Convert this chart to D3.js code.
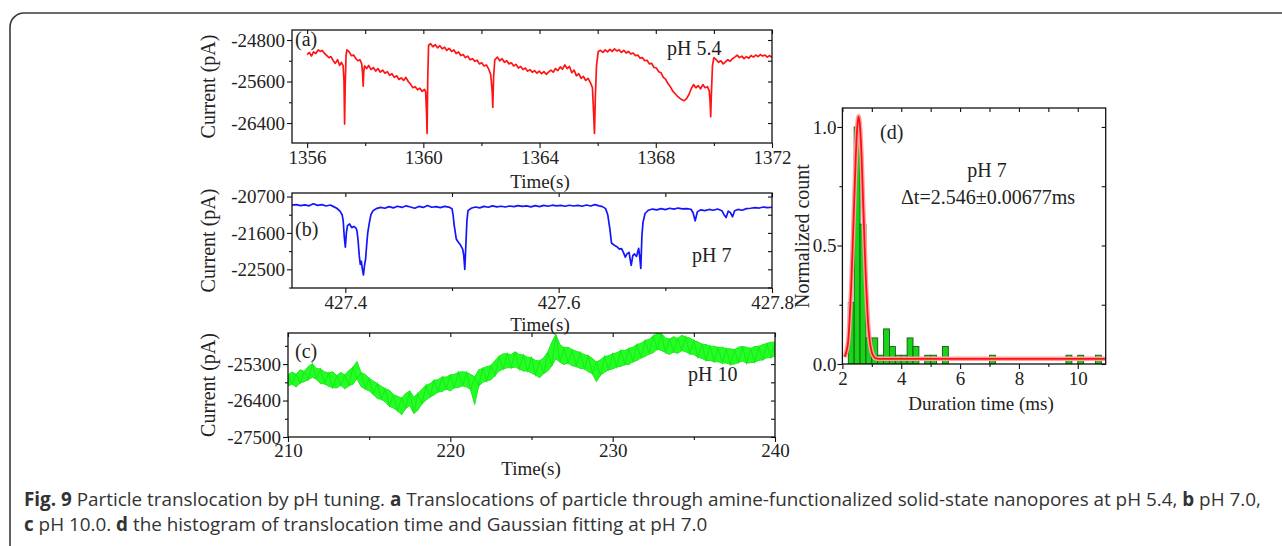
<!DOCTYPE html>
<html><head><meta charset="utf-8">
<script src="https://cdn.jsdelivr.net/npm/d3@7"></script>
<style>
body{margin:0;background:#fff;}
svg{display:block;}
</style></head><body>
<svg id="chart" width="1282" height="546"></svg>
<script>
// ---------------- DATA ----------------
// Panel (a) pH 5.4 : [time s, current pA]
const traceA = [
[1356.00,-25080],[1356.08,-25040],[1356.15,-25110],[1356.22,-25030],[1356.30,-25060],[1356.38,-24990],[1356.45,-25020],[1356.52,-25000],[1356.60,-25060],[1356.68,-25100],[1356.75,-25140],[1356.82,-25120],[1356.90,-25200],[1356.97,-25250],[1357.05,-25180],[1357.12,-25290],[1357.18,-25230],[1357.24,-25300],
[1357.27,-25600],[1357.29,-26420],[1357.31,-25700],[1357.34,-25100],[1357.37,-24990],
[1357.45,-25030],[1357.52,-25100],[1357.60,-25090],[1357.68,-25160],[1357.75,-25200],[1357.82,-25180],[1357.88,-25260],
[1357.91,-25450],[1357.93,-25690],[1357.95,-25400],[1357.98,-25300],
[1358.05,-25350],[1358.12,-25290],[1358.20,-25370],[1358.28,-25330],[1358.36,-25400],[1358.44,-25350],[1358.52,-25420],[1358.60,-25380],[1358.68,-25440],[1358.76,-25410],[1358.84,-25480],[1358.92,-25450],[1359.00,-25520],[1359.08,-25490],[1359.16,-25560],[1359.24,-25530],[1359.32,-25580],[1359.40,-25520],[1359.48,-25600],[1359.56,-25650],[1359.64,-25720],[1359.72,-25700],[1359.80,-25760],[1359.88,-25730],[1359.96,-25790],[1360.04,-25750],[1360.08,-25800],
[1360.11,-26200],[1360.13,-26600],[1360.15,-25600],[1360.18,-24900],
[1360.25,-24870],[1360.33,-24930],[1360.41,-24890],[1360.49,-24950],[1360.57,-24910],[1360.65,-24970],[1360.73,-24940],[1360.81,-25000],[1360.89,-24960],[1360.97,-25020],[1361.05,-24990],[1361.13,-25060],[1361.21,-25030],[1361.29,-25100],[1361.37,-25080],[1361.45,-25140],[1361.53,-25110],[1361.61,-25180],[1361.69,-25160],[1361.77,-25210],[1361.85,-25190],[1361.93,-25260],[1362.01,-25240],[1362.09,-25300],[1362.17,-25280],[1362.25,-25360],[1362.32,-25470],
[1362.37,-25800],[1362.39,-26100],[1362.42,-25500],[1362.46,-25180],
[1362.55,-25130],[1362.63,-25200],[1362.71,-25160],[1362.79,-25230],[1362.87,-25200],[1362.95,-25260],[1363.03,-25240],[1363.11,-25300],[1363.19,-25270],[1363.27,-25340],[1363.35,-25310],[1363.43,-25370],[1363.51,-25340],[1363.59,-25400],[1363.67,-25370],[1363.75,-25420],[1363.83,-25390],[1363.91,-25440],[1363.99,-25400],[1364.07,-25450],[1364.15,-25410],[1364.23,-25460],[1364.31,-25420],[1364.39,-25380],[1364.47,-25420],[1364.55,-25350],[1364.63,-25390],[1364.71,-25320],[1364.79,-25360],[1364.87,-25280],[1364.95,-25350],[1365.03,-25310],[1365.11,-25430],[1365.19,-25380],[1365.27,-25490],[1365.35,-25450],[1365.43,-25540],[1365.51,-25500],[1365.59,-25580],[1365.67,-25540],[1365.75,-25620],[1365.82,-25720],
[1365.86,-26200],[1365.89,-26600],[1365.92,-25900],[1365.96,-25300],[1366.02,-25020],
[1366.10,-25000],[1366.18,-25040],[1366.26,-24990],[1366.34,-25030],[1366.42,-24980],[1366.50,-25020],[1366.58,-24970],[1366.66,-25010],[1366.74,-24990],[1366.82,-25040],[1366.90,-25000],[1366.98,-25050],[1367.06,-25020],[1367.14,-25070],[1367.22,-25050],[1367.30,-25100],[1367.38,-25090],[1367.46,-25150],[1367.54,-25140],[1367.62,-25200],[1367.70,-25190],[1367.78,-25260],[1367.86,-25250],[1367.94,-25330],[1368.02,-25340],[1368.10,-25410],[1368.18,-25430],[1368.26,-25520],[1368.34,-25560],[1368.42,-25640],[1368.50,-25700],[1368.58,-25780],[1368.66,-25830],[1368.74,-25880],[1368.82,-25920],[1368.90,-25950],[1368.98,-25970],[1369.06,-25930],[1369.14,-25850],[1369.22,-25740],[1369.30,-25660],[1369.38,-25720],[1369.46,-25680],[1369.54,-25740],[1369.62,-25660],[1369.70,-25720],[1369.78,-25700],[1369.84,-25780],
[1369.87,-26000],[1369.89,-26280],[1369.91,-25900],[1369.95,-25300],[1370.00,-25140],
[1370.08,-25180],[1370.16,-25230],[1370.24,-25200],[1370.32,-25260],[1370.40,-25220],[1370.48,-25180],[1370.56,-25210],[1370.64,-25160],[1370.72,-25130],[1370.80,-25090],[1370.88,-25140],[1370.96,-25110],[1371.04,-25160],[1371.12,-25120],[1371.20,-25150],[1371.28,-25100],[1371.36,-25130],[1371.44,-25090],[1371.52,-25120],[1371.60,-25080],[1371.68,-25110],[1371.76,-25090],[1371.84,-25130],[1371.92,-25100],[1372.00,-25140]
];

// Panel (b) pH 7 : [time s, current pA]
const traceB = [
[427.350,-20915],[427.354,-20900],[427.358,-20925],[427.362,-20905],[427.366,-20930],[427.370,-20880],[427.374,-20920],[427.378,-20900],[427.382,-20935],[427.386,-20910],[427.389,-20950],[427.392,-20990],[427.395,-21060],[427.397,-21150],[427.398,-21300],[427.399,-21700],[427.400,-21950],[427.401,-21600],[427.402,-21420],[427.404,-21380],[427.406,-21470],[427.408,-21440],[427.410,-21480],[427.411,-21560],[427.412,-21800],[427.413,-22150],[427.414,-22380],[427.415,-22300],[427.416,-22500],[427.417,-22640],[427.418,-22400],[427.419,-22250],[427.420,-21900],[427.421,-21600],[427.4225,-21350],[427.424,-21150],[427.426,-21050],[427.429,-21000],[427.433,-20970],[427.437,-20990],[427.441,-20950],[427.445,-20980],[427.449,-20940],[427.453,-20970],[427.457,-20930],[427.461,-20960],[427.465,-20990],[427.469,-20945],[427.473,-20970],[427.477,-20920],[427.481,-20965],[427.485,-20950],[427.489,-20975],[427.493,-20945],[427.497,-20960],[427.500,-21000],[427.501,-21150],[427.502,-21400],[427.504,-21750],[427.506,-21830],[427.508,-21900],[427.510,-22000],[427.511,-22150],[427.512,-22500],[427.513,-21900],[427.514,-21300],[427.515,-21050],[427.518,-20990],[427.522,-20960],[427.526,-20980],[427.530,-20945],[427.534,-20965],[427.538,-20930],[427.542,-20955],[427.546,-20940],[427.550,-20960],[427.554,-20935],[427.558,-20950],[427.562,-20925],[427.566,-20945],[427.570,-20930],[427.574,-20955],[427.578,-20925],[427.582,-20950],[427.586,-20920],[427.590,-20940],[427.594,-20915],[427.598,-20930],[427.602,-20920],[427.606,-20940],[427.610,-20915],[427.614,-20935],[427.618,-20920],[427.622,-20940],[427.626,-20910],[427.630,-20935],[427.634,-20900],[427.638,-20930],[427.641,-20950],[427.644,-21000],[427.646,-21150],[427.648,-21500],[427.6495,-21850],[427.651,-21880],[427.653,-21920],[427.655,-21950],[427.657,-22000],[427.659,-21990],[427.661,-22100],[427.6625,-22200],[427.664,-22120],[427.666,-22080],[427.667,-22250],[427.668,-22400],[427.6695,-22160],[427.671,-22120],[427.673,-22180],[427.675,-21980],[427.676,-22200],[427.677,-22480],[427.678,-21700],[427.679,-21350],[427.681,-21120],[427.684,-21040],[427.688,-21010],[427.692,-21030],[427.696,-21000],[427.700,-21025],[427.704,-20990],[427.708,-21010],[427.712,-20985],[427.716,-21005],[427.720,-21000],[427.724,-21015],[427.726,-21100],[427.728,-21300],[427.730,-21080],[427.733,-21030],[427.737,-21050],[427.741,-21020],[427.745,-21040],[427.749,-21010],[427.753,-21050],[427.755,-21150],[427.757,-21220],[427.759,-21060],[427.761,-21100],[427.763,-21200],[427.765,-21050],[427.768,-21020],[427.772,-21040],[427.776,-21000],[427.780,-20990],[427.784,-20975],[427.788,-20985],[427.792,-20960],[427.796,-20975],[427.800,-20965]
];

// Panel (c) pH 10 : noisy band, [time s, upper pA, lower pA]
const bandC = [
[210.00,-25620,-25960],[210.25,-25540,-25900],[210.50,-25610,-25990],[210.75,-25470,-25870],[211.00,-25520,-25830],[211.25,-25370,-25770],[211.50,-25290,-25700],[211.75,-25430,-25750],[212.00,-25450,-25890],[212.25,-25530,-25890],[212.50,-25570,-25970],[212.75,-25530,-26010],[213.00,-25650,-26020],[213.25,-25550,-25940],[213.50,-25630,-26050],[213.75,-25490,-25950],[214.00,-25400,-25910],[214.25,-25220,-25740],[214.50,-25560,-25980],[214.75,-25610,-26050],
[215.00,-25730,-26110],[215.25,-25810,-26210],[215.50,-25890,-26340],[215.75,-25970,-26360],[216.00,-26050,-26450],[216.25,-26090,-26570],[216.50,-26230,-26630],[216.75,-26270,-26710],[217.00,-26330,-26830],[217.25,-26190,-26640],[217.50,-26110,-26550],[217.75,-26290,-26790],[218.00,-26190,-26690],[218.25,-26060,-26500],[218.50,-25940,-26390],[218.75,-25890,-26290],[219.00,-25790,-26230],[219.25,-25770,-26140],[219.50,-25690,-26130],[219.75,-25690,-26050],
[220.00,-25630,-26110],[220.25,-25610,-26010],[220.50,-25550,-26010],[220.75,-25530,-25950],[221.00,-25550,-25990],[221.25,-25610,-26070],[221.50,-25690,-26520],[221.75,-25470,-25960],[222.00,-25430,-25850],[222.25,-25370,-25810],[222.50,-25350,-25770],[222.75,-25190,-25650],[223.00,-25070,-25510],[223.25,-24990,-25450],[223.50,-24990,-25410],[223.75,-25010,-25410],[224.00,-24930,-25390],[224.25,-25010,-25450],[224.50,-25030,-25510],[224.75,-25090,-25510],
[225.00,-25110,-25570],[225.25,-25190,-25630],[225.50,-25210,-25710],[225.75,-25110,-25590],[226.00,-24940,-25510],[226.25,-24640,-25360],[226.50,-24410,-25140],[226.75,-24710,-25240],[227.00,-24810,-25310],[227.25,-24790,-25270],[227.50,-24870,-25350],[227.75,-24910,-25370],[228.00,-24950,-25430],[228.25,-25010,-25440],[228.50,-25050,-25530],[228.75,-25130,-25590],[229.00,-25240,-25830],[229.25,-25170,-25630],[229.50,-25070,-25550],[229.75,-25050,-25470],
[230.00,-24990,-25450],[230.25,-24960,-25390],[230.50,-24890,-25370],[230.75,-24890,-25310],[231.00,-24830,-25310],[231.25,-24790,-25230],[231.50,-24710,-25190],[231.75,-24670,-25110],[232.00,-24590,-25070],[232.25,-24550,-24990],[232.50,-24450,-24960],[232.75,-24370,-24850],[233.00,-24380,-24890],[233.25,-24510,-24950],[233.50,-24550,-25010],[233.75,-24470,-24930],[234.00,-24530,-24980],[234.25,-24430,-24890],[234.50,-24480,-24930],[234.75,-24510,-24990],
[235.00,-24590,-25010],[235.25,-24630,-25090],[235.50,-24700,-25130],[235.75,-24710,-25190],[236.00,-24760,-25190],[236.25,-24760,-25230],[236.50,-24800,-25230],[236.75,-24790,-25270],[237.00,-24840,-25270],[237.25,-24840,-25310],[237.50,-24870,-25300],[237.75,-24790,-25250],[238.00,-24770,-25210],[238.25,-24790,-25270],[238.50,-24830,-25260],[238.75,-24770,-25240],[239.00,-24770,-25190],[239.25,-24710,-25170],[239.50,-24680,-25110],[239.75,-24640,-25100],[240.00,-24640,-25060]
];

// Panel (d) histogram
const binStart = [2.2,2.4,2.6,2.8,3.0,3.2,3.4,3.6,3.8,4.0,4.2,4.4,4.8,5.0,5.4,7.0,9.6,10.0,10.6];
const binWidth = 0.2;
const normCount = [0.26,1.0,0.59,0.11,0.11,0.037,0.148,0.074,0.037,0.037,0.11,0.074,0.037,0.037,0.074,0.037,0.037,0.037,0.037];
// Gaussian fit curve: [ms, normalized count]
const fitCurve = [[2.08,0.03],[2.15,0.06],[2.2,0.1],[2.25,0.2],[2.3,0.33],[2.35,0.5],[2.4,0.68],[2.45,0.86],[2.5,0.99],[2.55,1.045],[2.6,1.0],[2.65,0.88],[2.7,0.7],[2.75,0.52],[2.8,0.35],[2.85,0.22],[2.9,0.13],[2.95,0.08],[3.0,0.05],[3.05,0.035],[3.1,0.026],[3.2,0.022],[10.95,0.022]];

// ticks
const ticksA = {xMajor:[1356,1360,1364,1368,1372], xMinor:[1358,1362,1366,1370], yMajor:[-24800,-25600,-26400], yMinor:[-25200,-26000]};
const ticksB = {xMajor:[427.4,427.6,427.8], xMinor:[427.5,427.7], yMajor:[-20700,-21600,-22500], yMinor:[-21150,-22050,-22950]};
const ticksC = {xMajor:[210,220,230,240], xMinor:[215,225,235], yMajor:[-25300,-26400,-27500], yMinor:[-24750,-25850,-26950]};
const ticksD = {xMajor:[2,4,6,8,10], xMinor:[3,5,7,9], yMajor:[0,0.5,1.0], yMinor:[0.25,0.75]};

const captionLine1 = [["Fig. 9",true],[" Particle translocation by pH tuning. ",false],["a",true],[" Translocations of particle through amine-functionalized solid-state nanopores at pH 5.4, ",false],["b",true],[" pH 7.0,",false]];
const captionLine2 = [["c",true],[" pH 10.0. ",false],["d",true],[" the histogram of translocation time and Gaussian fitting at pH 7.0",false]];

// ---------------- DRAW ----------------
const svg = d3.select("#chart");
const SERIF = "'Liberation Serif','Times New Roman',serif";
const TXT = "#222";

// outer rounded border
svg.append("rect").attr("x",10).attr("y",13).attr("width",1300).attr("height",560)
  .attr("rx",14).attr("fill","none").attr("stroke","#3a3a3a").attr("stroke-width",1.6);

function panel(id, cfg, ticks){
  const g = svg.append("g");
  const x = d3.scaleLinear().domain(cfg.xd).range([cfg.l, cfg.r]);
  const y = d3.scaleLinear().domain(cfg.yd).range([cfg.b, cfg.t]);
  const clip = "clip-"+id;
  svg.append("clipPath").attr("id",clip).append("rect")
    .attr("x",cfg.l).attr("y",cfg.t).attr("width",cfg.r-cfg.l).attr("height",cfg.b-cfg.t);
  const style = s => s.call(a=>a.select(".domain").remove())
     .selectAll("text").attr("font-family",SERIF).attr("font-size",19).attr("fill",TXT);
  const styleLines = s => s.selectAll("line").attr("stroke","#111").attr("stroke-width",1.1);
  g.append("g").attr("transform",`translate(0,${cfg.b})`)
    .call(d3.axisBottom(x).tickValues(ticks.xMajor).tickSize(5).tickPadding(cfg.xpad).tickFormat(cfg.xf))
    .call(style).call(styleLines);
  g.append("g").attr("transform",`translate(0,${cfg.b})`)
    .call(d3.axisBottom(x).tickValues(ticks.xMinor).tickSize(3).tickFormat(""))
    .call(style).call(styleLines);
  g.append("g").attr("transform",`translate(${cfg.l},0)`)
    .call(d3.axisLeft(y).tickValues(ticks.yMajor).tickSize(5).tickPadding(cfg.ypad).tickFormat(cfg.yf))
    .call(style).call(styleLines);
  g.append("g").attr("transform",`translate(${cfg.l},0)`)
    .call(d3.axisLeft(y).tickValues(ticks.yMinor).tickSize(3).tickFormat(""))
    .call(style).call(styleLines);
  g.append("g").attr("transform",`translate(0,${cfg.t})`)
    .call(d3.axisTop(x).tickValues(ticks.xMajor.concat(ticks.xMinor)).tickSize(-4).tickFormat(""))
    .call(style).call(styleLines);
  g.append("g").attr("transform",`translate(${cfg.r},0)`)
    .call(d3.axisRight(y).tickValues(ticks.yMajor.concat(ticks.yMinor)).tickSize(-4).tickFormat(""))
    .call(style).call(styleLines);
  const plot = g.append("g").attr("clip-path",`url(#${clip})`);
  g.append("rect").attr("x",cfg.l).attr("y",cfg.t).attr("width",cfg.r-cfg.l).attr("height",cfg.b-cfg.t)
    .attr("fill","none").attr("stroke","#111").attr("stroke-width",1.3);
  g.append("text").attr("transform",`translate(${cfg.ylx},${(cfg.t+cfg.b)/2}) rotate(-90)`)
    .attr("text-anchor","middle").attr("dominant-baseline","central")
    .attr("font-family",SERIF).attr("font-size",20).attr("fill",TXT).text(cfg.ylab);
  g.append("text").attr("x",cfg.xlx).attr("y",cfg.xly).attr("text-anchor","middle")
    .attr("font-family",SERIF).attr("font-size",19).attr("fill",TXT).text(cfg.xlab);
  return {g, plot, x, y};
}

const numFmt = d => String(d);

// Panel a
const pa = panel("a", {l:292,r:772,t:30,b:143, xd:[1355.48,1372], yd:[-26785,-24607], xpad:3, ypad:2,
  xf:numFmt, yf:numFmt, ylab:"Current (pA)", ylx:208, xlab:"Time(s)", xlx:540, xly:188}, ticksA);
pa.plot.append("path").datum(traceA)
  .attr("d", d3.line().x(d=>pa.x(d[0])).y(d=>pa.y(d[1])))
  .attr("fill","none").attr("stroke","#ff1414").attr("stroke-width",1.7).attr("stroke-linejoin","round");

// Panel b
const pb = panel("b", {l:292,r:772,t:193,b:288, xd:[427.35,427.8], yd:[-22962,-20613], xpad:3, ypad:2,
  xf:d3.format(".1f"), yf:numFmt, ylab:"Current (pA)", ylx:208, xlab:"Time(s)", xlx:540, xly:331}, ticksB);
pb.plot.append("path").datum(traceB)
  .attr("d", d3.line().x(d=>pb.x(d[0])).y(d=>pb.y(d[1])))
  .attr("fill","none").attr("stroke","#1414ff").attr("stroke-width",1.7).attr("stroke-linejoin","round");

// Panel c
const pc = panel("c", {l:288,r:775,t:333,b:437, xd:[210,240], yd:[-27500,-24362], xpad:2, ypad:2,
  xf:numFmt, yf:numFmt, ylab:"Current (pA)", ylx:208, xlab:"Time(s)", xlx:531, xly:475}, ticksC);
pc.plot.append("path").datum(bandC)
  .attr("d", d3.area().x(d=>pc.x(d[0])).y0(d=>pc.y(d[2])).y1(d=>pc.y(d[1])))
  .attr("fill","#22ff22").attr("stroke","#1fe61f").attr("stroke-width",1);
// noise texture: alternate upper/lower readings of successive samples
pc.plot.append("path").datum(bandC)
  .attr("d", d3.line().x(d=>pc.x(d[0])).y((d,i)=>pc.y(i%2 ? d[2] : d[1])))
  .attr("fill","none").attr("stroke","#1ee81e").attr("stroke-width",1.1);

// Panel d
const pd = panel("d", {l:842.4,r:1105.7,t:108,b:364, xd:[2,10.95], yd:[0,1.08], xpad:3, ypad:1,
  xf:d3.format("d"), yf:d3.format(".1f"), ylab:"Normalized count", ylx:802, xlab:"Duration time (ms)", xlx:981, xly:410}, ticksD);
pd.plot.selectAll("rect.bar").data(binStart).join("rect").attr("class","bar")
  .attr("x",d=>pd.x(d)).attr("width",d=>pd.x(d+binWidth)-pd.x(d))
  .attr("y",(d,i)=>pd.y(normCount[i])).attr("height",(d,i)=>pd.y(0)-pd.y(normCount[i]))
  .attr("fill","#1ad41a").attr("stroke","#145a14").attr("stroke-width",0.9);
const fitLine = d3.line().x(d=>pd.x(d[0])).y(d=>pd.y(d[1])).curve(d3.curveMonotoneX);
pd.plot.append("path").datum(fitCurve).attr("d",fitLine)
  .attr("fill","none").attr("stroke","#ffa0a0").attr("stroke-width",4.5);
pd.plot.append("path").datum(fitCurve).attr("d",fitLine)
  .attr("fill","none").attr("stroke","#ff1010").attr("stroke-width",1.8);

// panel annotations
function label(x,y,t,anchor){
  svg.append("text").attr("x",x).attr("y",y).attr("text-anchor",anchor||"start")
    .attr("font-family",SERIF).attr("font-size",20).attr("fill",TXT).text(t);
}
label(295,46,"(a)"); label(667,55,"pH 5.4");
label(295,236,"(b)"); label(692,262,"pH 7");
label(295,358,"(c)"); label(688,381,"pH 10");
label(880,139,"(d)"); label(987,177,"pH 7","middle"); label(988,204,"\u0394t=2.546\u00b10.00677ms","middle");

// caption
function caption(parts, y){
  const t = svg.append("text").attr("x",24).attr("y",y)
    .attr("font-family","'Open Sans',sans-serif").attr("font-size",16).attr("fill","#333");
  parts.forEach(p=>t.append("tspan").attr("font-weight",p[1]?"bold":"normal").text(p[0]));
  return t;
}
const c1 = caption(captionLine1, 506);
const c2 = caption(captionLine2, 531);
const w = c1.node().getComputedTextLength();
const fs = 16*1238/w;
c1.attr("font-size",fs); c2.attr("font-size",fs);
</script>
</body></html>
